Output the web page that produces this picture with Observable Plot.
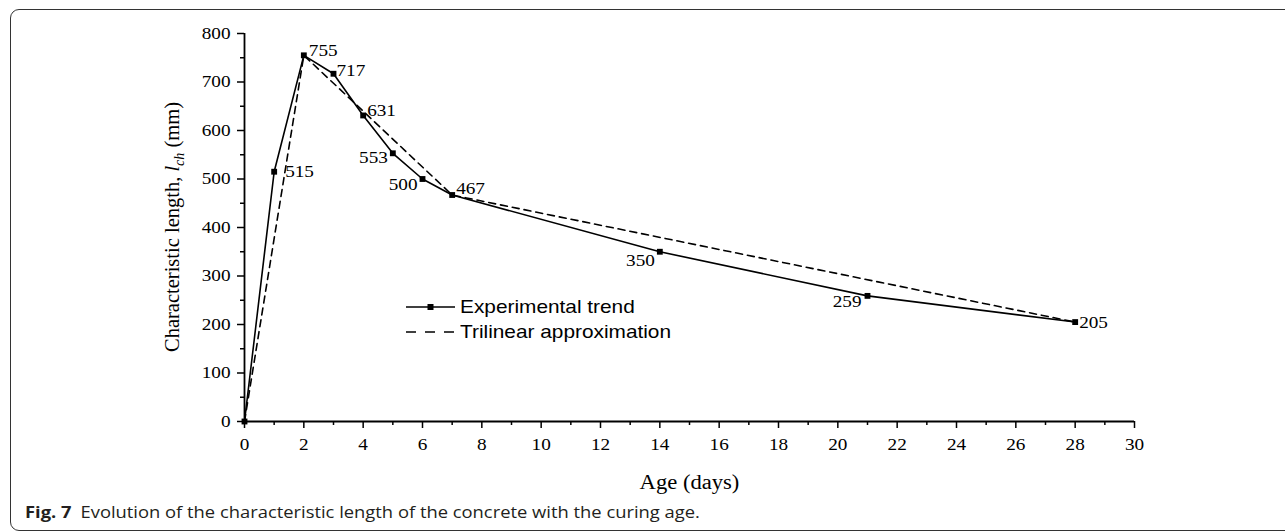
<!DOCTYPE html>
<html><head><meta charset="utf-8">
<script src="https://cdn.jsdelivr.net/npm/d3@7"></script>
<script src="https://cdn.jsdelivr.net/npm/@observablehq/plot@0.6"></script>
<style>
html,body{margin:0;padding:0;background:#fff;}
#wrap{position:relative;width:1285px;height:532px;overflow:hidden;}
#frame{position:absolute;left:10px;top:9px;width:1400px;height:522px;border:1.3px solid #333;border-radius:9px;box-sizing:border-box;}
#chart{position:absolute;left:0;top:0;}
#legend{position:absolute;left:406px;top:294px;font-family:"Liberation Sans",Arial,sans-serif;font-size:18.6px;color:#000;}
.row{display:flex;align-items:center;height:25.5px;white-space:nowrap;}
.row svg{margin-right:5px;flex:none;}
.row span{display:inline-block;transform:scaleX(1.12);transform-origin:left center;}
#caption{position:absolute;left:25px;top:502px;line-height:20px;font-family:"Open Sans",sans-serif;font-size:16.4px;color:#231f20;white-space:nowrap;transform:scaleX(1.12);transform-origin:left center;}
#caption b{margin-right:8px;}
</style></head>
<body><div id="wrap"><div id="frame"></div><div id="chart"></div><div id="legend"></div><div id="caption"></div></div>
<script>
// ---- data ----
const ages = [0, 1, 2, 3, 4, 5, 6, 7, 14, 21, 28];
const lengths = [0, 515, 755, 717, 631, 553, 500, 467, 350, 259, 205];
const triAges = [0, 2, 7, 28];
const triLengths = [0, 755, 467, 205];
const xTicks = [0, 2, 4, 6, 8, 10, 12, 14, 16, 18, 20, 22, 24, 26, 28, 30];
const xMinorTicks = [1, 3, 5, 7, 9, 11, 13, 15, 17, 19, 21, 23, 25, 27, 29];
const yTicks = [0, 100, 200, 300, 400, 500, 600, 700, 800];
const yMinorTicks = [50, 150, 250, 350, 450, 550, 650, 750];
const seriesNames = ["Experimental trend", "Trilinear approximation"];
const xLabel = "Age (days)";
const captionBold = "Fig. 7";
const captionText = "Evolution of the characteristic length of the concrete with the curing age.";

// label placement (index into ages -> [dx, dy, anchor])
const labelPlacement = {
  1: [11, 0, "start"], 2: [5, -5, "start"], 3: [3, -3, "start"], 4: [4, -5, "start"],
  5: [-5, 4, "end"], 6: [-5, 6, "end"], 7: [4, -6, "start"], 8: [-5, 9, "end"],
  9: [-6, 6, "end"], 10: [4, 0, "start"]
};

const exp = ages.map((a, i) => ({age: a, len: lengths[i]}));
const tri = triAges.map((a, i) => ({age: a, len: triLengths[i]}));
const serif = "'Liberation Serif','Times New Roman',serif";
const STRETCH = 1.13;

const labelMarks = Object.entries(labelPlacement).map(([i, [dx, dy, anchor]]) =>
  Plot.text([exp[+i]], {x: "age", y: "len", text: d => String(d.len), dx, dy, textAnchor: anchor,
    fill: "#000", fontSize: 17, fontFamily: serif}));

const chart = Plot.plot({
  width: 1285, height: 492,
  marginLeft: 244, marginRight: 151, marginTop: 33, marginBottom: 71,
  x: {domain: [0, 30]},
  y: {domain: [0, 800]},
  style: {fontFamily: serif, fontSize: "17px", color: "#000", background: "transparent", overflow: "visible"},
  marks: [
    Plot.axisX({ticks: xTicks, tickSize: 7, tickPadding: 9, tickFormat: d => String(d), label: null, strokeWidth: 1.5}),
    Plot.axisX({ticks: xMinorTicks, tickSize: 4, text: null, label: null, strokeWidth: 1.5}),
    Plot.axisY({ticks: yTicks, tickSize: 7, tickPadding: 7, tickFormat: d => String(d), label: null, strokeWidth: 1.5}),
    Plot.axisY({ticks: yMinorTicks, tickSize: 4, text: null, label: null, strokeWidth: 1.5}),
    Plot.ruleX([0], {strokeWidth: 1.8}),
    Plot.ruleY([0], {strokeWidth: 1.8}),
    Plot.line(tri, {x: "age", y: "len", stroke: "#000", strokeWidth: 1.6, strokeDasharray: "7,5"}),
    Plot.line(exp, {x: "age", y: "len", stroke: "#000", strokeWidth: 1.6}),
    Plot.dot(exp, {x: "age", y: "len", symbol: "square", r: 3.3, fill: "#000", stroke: "none"}),
    ...labelMarks,
    Plot.text([xLabel], {frameAnchor: "bottom", dy: 61, text: d => d, fontSize: 20, fontFamily: serif, fill: "#000", lineAnchor: "middle"})
  ]
});

document.getElementById("chart").appendChild(chart);

// horizontal glyph stretch to match the reference's proportions
chart.querySelectorAll("text").forEach(el => {
  if (el.querySelector("tspan")) return;
  const w = el.getComputedTextLength();
  if (w > 0) {
    el.setAttribute("textLength", (w * STRETCH).toFixed(2));
    el.setAttribute("lengthAdjust", "spacingAndGlyphs");
  }
});

// y-axis title with italic l and subscript ch
const svg = d3.select(chart);
const t = svg.append("text")
  .attr("transform", "translate(179,227) rotate(-90)")
  .attr("text-anchor", "middle")
  .attr("font-family", serif).attr("font-size", 20.5).attr("fill", "#000");
t.append("tspan").text("Characteristic length, ");
t.append("tspan").attr("font-style", "italic").text("l");
t.append("tspan").attr("font-style", "italic").attr("font-size", 14).attr("dy", 5).text("ch");
t.append("tspan").attr("dy", -5).text(" (mm)");

// legend
const legend = d3.select("#legend");
const r1 = legend.append("div").attr("class", "row");
const s1 = r1.append("svg").attr("width", 49).attr("height", 10);
s1.append("line").attr("x1", 0).attr("x2", 49).attr("y1", 5).attr("y2", 5).attr("stroke", "#000").attr("stroke-width", 1.6);
s1.append("rect").attr("x", 21.5).attr("y", 2).attr("width", 6).attr("height", 6).attr("fill", "#000");
r1.append("span").text(seriesNames[0]);
const r2 = legend.append("div").attr("class", "row");
const s2 = r2.append("svg").attr("width", 49).attr("height", 10);
s2.append("line").attr("x1", 0).attr("x2", 49).attr("y1", 5).attr("y2", 5).attr("stroke", "#000").attr("stroke-width", 1.6).attr("stroke-dasharray", "10,9");
r2.append("span").text(seriesNames[1]);

// caption
const cap = d3.select("#caption");
cap.append("b").text(captionBold);
cap.append("span").text(captionText);
</script>
</body></html>
